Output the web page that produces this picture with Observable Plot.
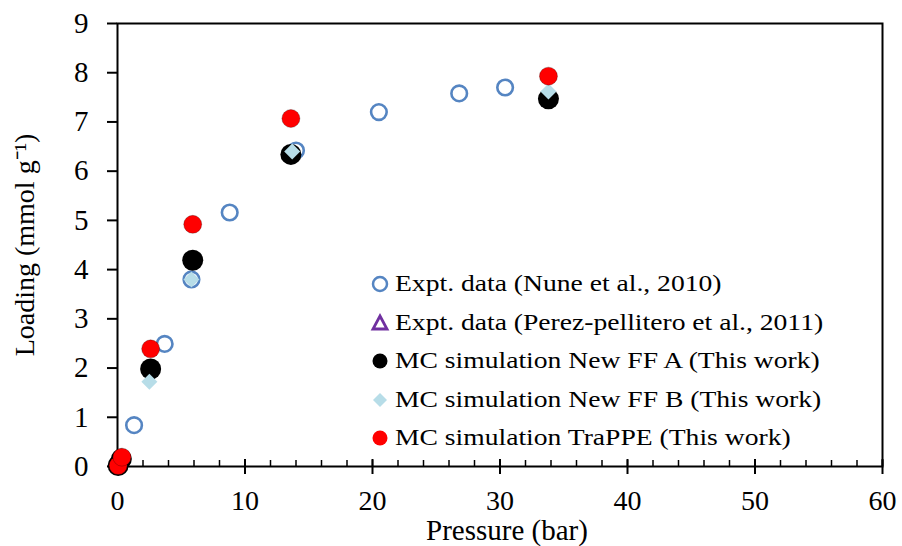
<!DOCTYPE html>
<html><head><meta charset="utf-8">
<script src="https://cdn.jsdelivr.net/npm/d3@7"></script>
<script src="https://cdn.jsdelivr.net/npm/@observablehq/plot@0.6"></script>
<style>
body{margin:0;background:#fff;}
#wrap{position:relative;width:902px;height:546px;font-family:"Liberation Serif","Times New Roman",serif;}
#legend{position:absolute;left:368px;top:265px;font-size:23px;color:#000;line-height:38.5px;}
#legend div{display:flex;align-items:center;white-space:nowrap;}
#legend svg{width:24px;height:24px;margin-right:3px;flex:none;}
#legend span{display:inline-block;transform:scaleX(1.2);transform-origin:left center;}
</style></head>
<body><div id="wrap"><div id="legend"></div></div>
<script>
// Expt. data (Nune et al., 2010)
const nuneP = [1.3, 3.7, 5.8, 8.8, 14.0, 20.5, 26.8, 30.4];
const nuneL = [0.84, 2.49, 3.80, 5.16, 6.42, 7.20, 7.58, 7.70];
// Expt. data (Perez-pellitero et al., 2011) - not visible in plot area
const perezP = [];
const perezL = [];
// MC simulation New FF A
const ffaP = [0.05, 0.3, 2.6, 5.9, 13.6, 33.8];
const ffaL = [0.02, 0.15, 1.98, 4.19, 6.34, 7.47];
// MC simulation New FF B
const ffbP = [0.05, 0.3, 2.5, 5.8, 13.7, 33.8];
const ffbL = [0.02, 0.15, 1.72, 3.80, 6.40, 7.62];
// MC simulation TraPPE
const trapP = [0.05, 0.35, 2.6, 5.9, 13.6, 33.8];
const trapL = [0.02, 0.19, 2.39, 4.92, 7.07, 7.93];

const xTicks = [0, 10, 20, 30, 40, 50, 60];
const xMinor = d3.range(0, 61, 2);
const yTicks = [0, 1, 2, 3, 4, 5, 6, 7, 8, 9];

const series = [
  {name: "Expt. data (Nune et al., 2010)", P: nuneP, L: nuneL},
  {name: "Expt. data (Perez-pellitero et al., 2011)", P: perezP, L: perezL},
  {name: "MC simulation New FF A (This work)", P: ffaP, L: ffaL},
  {name: "MC simulation New FF B (This work)", P: ffbP, L: ffbL},
  {name: "MC simulation TraPPE (This work)", P: trapP, L: trapL}
];
const rows = s => s.P.map((p, i) => ({p, l: s.L[i]}));

const chart = Plot.plot({
  width: 902, height: 546,
  marginLeft: 117, marginRight: 20, marginTop: 23, marginBottom: 80,
  style: {fontFamily: "'Liberation Serif','Times New Roman',serif", fontSize: "29px", color: "#000", background: "#fff"},
  x: {domain: [0, 60]},
  y: {domain: [0, 9]},
  marks: [
    Plot.frame({stroke: "#000", strokeWidth: 2}),
    Plot.axisY({ticks: yTicks, tickSize: 10, tickPadding: 19, strokeWidth: 2, fontSize: 29, label: null}),
    Plot.axisX({ticks: xTicks, tickSize: 8, tickPadding: 16, strokeWidth: 2, fontSize: 28, label: null}),
    Plot.axisX({ticks: xTicks, tickSize: -7, text: null, strokeWidth: 2, label: null}),
    Plot.axisX({ticks: xMinor, tickSize: -6, text: null, strokeWidth: 1.5, label: null}),
    Plot.text(["Loading (mmol g⁻¹)"], {frameAnchor: "left", textAnchor: "middle", lineAnchor: "middle", rotate: -90, dx: -92, fontSize: 28, text: d => d}),
    Plot.text(["Pressure (bar)"], {frameAnchor: "bottom", textAnchor: "middle", lineAnchor: "middle", dx: 7, dy: 64, fontSize: 29, text: d => d}),
    Plot.dot(rows(series[0]), {x: "p", y: "l", r: 7.8, stroke: "#5585c2", strokeWidth: 2.6, fill: "none"}),
    Plot.dot(rows(series[1]), {x: "p", y: "l", r: 7, symbol: "triangle", stroke: "#7030a0", strokeWidth: 2.5, fill: "none"}),
    Plot.dot(rows(series[2]), {x: "p", y: "l", r: 10.5, fill: "#000"}),
    Plot.dot(rows(series[3]), {x: "p", y: "l", r: 7.2, symbol: "diamond2", fill: "#b7dde8"}),
    Plot.dot(rows(series[4]), {x: "p", y: "l", r: 9, fill: "#ff0000", stroke: "#000", strokeWidth: 0.5, strokeOpacity: 0.5})
  ]
});
chart.style.position = "absolute";
chart.style.left = "0"; chart.style.top = "0";
const wrap = document.getElementById("wrap");
wrap.insertBefore(chart, wrap.firstChild);

const sym = [
  '<circle cx="12" cy="12" r="7" fill="none" stroke="#5585c2" stroke-width="2.5"/>',
  '<path d="M12,5 L19,18 L5,18 Z" fill="none" stroke="#7030a0" stroke-width="2.8"/>',
  '<circle cx="12" cy="12" r="7.5" fill="#000"/>',
  '<path d="M12,5 L19,12 L12,19 L5,12 Z" fill="#b7dde8"/>',
  '<circle cx="12" cy="12" r="7.5" fill="#ff0000"/>'
];
const lg = document.getElementById("legend");
series.forEach((s, i) => {
  const d = document.createElement("div");
  d.innerHTML = `<svg viewBox="0 0 24 24">${sym[i]}</svg><span>${s.name}</span>`;
  lg.appendChild(d);
});
</script></body></html>
